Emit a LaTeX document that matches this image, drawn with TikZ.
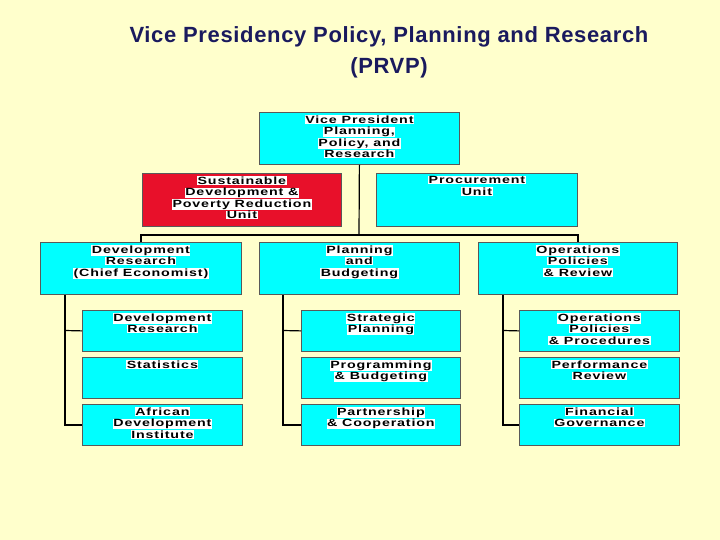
\documentclass[tikz,border=0pt]{standalone}
\usepackage{fontspec}
\setmainfont{Liberation Sans}
\newfontfamily\boxfont[LetterSpace=6]{Liberation Sans Bold}
\newfontfamily\titlefont[LetterSpace=3]{Liberation Sans Bold}
\usepackage{xcolor}
\definecolor{bg}{HTML}{FFFFCC}
\definecolor{cy}{HTML}{00FFFF}
\definecolor{rd}{HTML}{E8102A}
\definecolor{tt}{HTML}{1A1A5E}
\newcommand\hl[1]{{\setlength\fboxsep{0.5pt}\colorbox{white}{\scalebox{1.5}[1.1]{#1}}}}
\newcommand\bx[6]{\node[box,fill=#6,minimum width=#4pt,minimum height=#5pt] (#1) at (#2pt,-#3pt) {};}
\begin{document}
\begin{tikzpicture}[x=1pt,y=1pt,
  box/.style={draw=gray!70!black,line width=0.8pt,anchor=north west,inner sep=0pt},
  txt/.style={anchor=north,align=center,font=\boxfont\fontsize{9.5}{11.5}\selectfont,inner sep=0pt},
  ln/.style={line width=1.2pt}]
\fill[bg] (0,0) rectangle (720,-540);
\node[font=\titlefont\fontsize{22}{31}\selectfont,text=tt,align=center] (title) at (389,-52) {Vice Presidency Policy, Planning and Research\\(PRVP)};
\bx{vp}{259}{112}{200}{52}{cy}
\bx{sd}{142}{173}{199}{53}{rd}
\bx{pu}{376}{173}{201}{53}{cy}
\bx{dr}{40}{242}{201}{52}{cy}
\bx{pb}{259}{242}{200}{52}{cy}
\bx{op}{478}{242}{199}{52}{cy}
\bx{a1}{82}{310}{160}{41}{cy}
\bx{a2}{82}{357}{160}{41}{cy}
\bx{a3}{82}{404}{160}{41}{cy}
\bx{b1}{301}{310}{159}{41}{cy}
\bx{b2}{301}{357}{159}{41}{cy}
\bx{b3}{301}{404}{159}{41}{cy}
\bx{c1}{519}{310}{160}{41}{cy}
\bx{c2}{519}{357}{160}{41}{cy}
\bx{c3}{519}{404}{160}{41}{cy}
\node[txt] at ([yshift=-3pt]vp.north) {\hl{Vice President}\\\hl{Planning,}\\\hl{Policy, and}\\\hl{Research}};
\node[txt] at ([yshift=-3pt]sd.north) {\hl{Sustainable}\\\hl{Development \&}\\\hl{Poverty Reduction}\\\hl{Unit}};
\node[txt] at ([yshift=-3pt]pu.north) {\hl{Procurement}\\\hl{Unit}};
\node[txt] at ([yshift=-3pt]dr.north) {\hl{Development}\\\hl{Research}\\\hl{(Chief Economist)}};
\node[txt] at ([yshift=-3pt]pb.north) {\hl{Planning}\\\hl{and}\\\hl{Budgeting}};
\node[txt] at ([yshift=-3pt]op.north) {\hl{Operations}\\\hl{Policies}\\\hl{\& Review}};
\node[txt] at ([yshift=-3pt]a1.north) {\hl{Development}\\\hl{Research}};
\node[txt] at ([yshift=-3pt]a2.north) {\hl{Statistics}};
\node[txt] at ([yshift=-3pt]a3.north) {\hl{African}\\\hl{Development}\\\hl{Institute}};
\node[txt] at ([yshift=-3pt]b1.north) {\hl{Strategic}\\\hl{Planning}};
\node[txt] at ([yshift=-3pt]b2.north) {\hl{Programming}\\\hl{\& Budgeting}};
\node[txt] at ([yshift=-3pt]b3.north) {\hl{Partnership}\\\hl{\& Cooperation}};
\node[txt] at ([yshift=-3pt]c1.north) {\hl{Operations}\\\hl{Policies}\\\hl{\& Procedures}};
\node[txt] at ([yshift=-3pt]c2.north) {\hl{Performance}\\\hl{Review}};
\node[txt] at ([yshift=-3pt]c3.north) {\hl{Financial}\\\hl{Governance}};
\coordinate (bus) at (359,-235);
\draw[ln] (vp.south) -- (bus);
\draw[ln] (dr.north) |- (bus) -| (op.north);
\draw[ln] (dr.south -| 65,0) |- (a3.west);
\draw[ln] (65,-330.5) -- (a1.west);
\draw[ln] (pb.south -| 283,0) |- (b3.west);
\draw[ln] (283,-330.5) -- (b1.west);
\draw[ln] (op.south -| 503,0) |- (c3.west);
\draw[ln] (503,-330.5) -- (c1.west);
\end{tikzpicture}
\end{document}
